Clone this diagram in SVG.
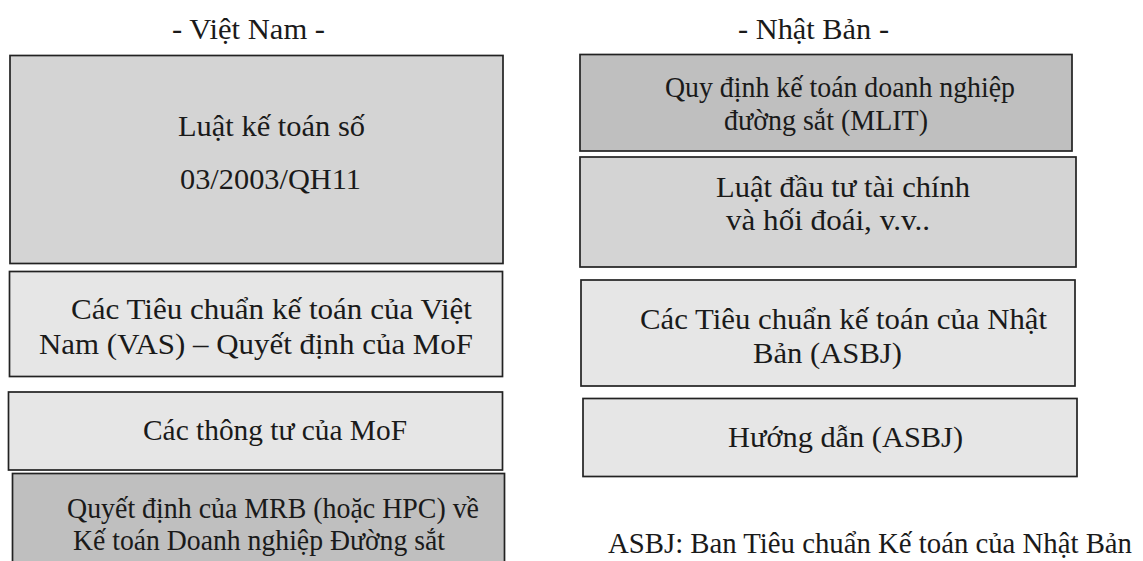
<svg xmlns="http://www.w3.org/2000/svg" width="1143" height="561" viewBox="0 0 1143 561">
  <style>
    text { font-family: "Liberation Serif", "Times New Roman", serif; font-size: 30px; fill: #1a1a1a; }
    .box { stroke: #222; stroke-width: 1.7; }
    .g1 { fill: #d4d4d4; }
    .g2 { fill: #e6e6e6; }
    .g3 { fill: #bfbfbf; }
  </style>
  <rect width="1143" height="561" fill="#ffffff"/>

  <!-- column headings -->
  <g id="headings">
    <text x="172" y="39" textLength="153" lengthAdjust="spacingAndGlyphs">- Việt Nam -</text>
    <text x="738" y="39" textLength="151" lengthAdjust="spacingAndGlyphs">- Nhật Bản -</text>
  </g>

  <!-- Vietnam column -->
  <g id="vn-law">
    <rect class="box g1" x="10" y="55.5" width="493" height="208"/>
    <text x="178" y="136" textLength="187" lengthAdjust="spacingAndGlyphs">Luật kế toán số</text>
    <text x="180" y="189" textLength="181" lengthAdjust="spacingAndGlyphs">03/2003/QH11</text>
  </g>
  <g id="vn-vas">
    <rect class="box g2" x="9.5" y="271.5" width="493" height="105"/>
    <text x="71" y="319" textLength="401" lengthAdjust="spacingAndGlyphs">Các Tiêu chuẩn kế toán của Việt</text>
    <text x="39" y="354" textLength="434" lengthAdjust="spacingAndGlyphs">Nam (VAS) – Quyết định của MoF</text>
  </g>
  <g id="vn-circulars">
    <rect class="box g2" x="8.5" y="392" width="494" height="78"/>
    <text x="143" y="440" textLength="264" lengthAdjust="spacingAndGlyphs">Các thông tư của MoF</text>
  </g>
  <g id="vn-mrb">
    <rect class="box g3" x="12.5" y="473.5" width="492" height="100"/>
    <text x="67" y="518" textLength="412" lengthAdjust="spacingAndGlyphs">Quyết định của MRB (hoặc HPC) về</text>
    <text x="73" y="550" textLength="372" lengthAdjust="spacingAndGlyphs">Kế toán Doanh nghiệp Đường sắt</text>
  </g>

  <!-- Japan column -->
  <g id="jp-mlit">
    <rect class="box g3" x="580" y="54.5" width="492" height="96.5"/>
    <text x="665" y="97" textLength="350" lengthAdjust="spacingAndGlyphs">Quy định kế toán doanh nghiệp</text>
    <text x="724" y="130" textLength="204" lengthAdjust="spacingAndGlyphs">đường sắt (MLIT)</text>
  </g>
  <g id="jp-fiel">
    <rect class="box g1" x="580" y="157" width="496" height="110"/>
    <text x="716" y="197" textLength="254" lengthAdjust="spacingAndGlyphs">Luật đầu tư tài chính</text>
    <text x="726" y="230" textLength="204" lengthAdjust="spacingAndGlyphs">và hối đoái, v.v..</text>
  </g>
  <g id="jp-asbj-standards">
    <rect class="box g2" x="581" y="280" width="494" height="106"/>
    <text x="640" y="329" textLength="407" lengthAdjust="spacingAndGlyphs">Các Tiêu chuẩn kế toán của Nhật</text>
    <text x="753" y="363" textLength="149" lengthAdjust="spacingAndGlyphs">Bản (ASBJ)</text>
  </g>
  <g id="jp-asbj-guidance">
    <rect class="box g2" x="583" y="398.5" width="494" height="78"/>
    <text x="728" y="447" textLength="235" lengthAdjust="spacingAndGlyphs">Hướng dẫn (ASBJ)</text>
  </g>

  <g id="connectors"></g>

  <!-- abbreviation note -->
  <g id="note">
    <text x="608" y="553" textLength="524" lengthAdjust="spacingAndGlyphs">ASBJ: Ban Tiêu chuẩn Kế toán của Nhật Bản</text>
  </g>
</svg>
